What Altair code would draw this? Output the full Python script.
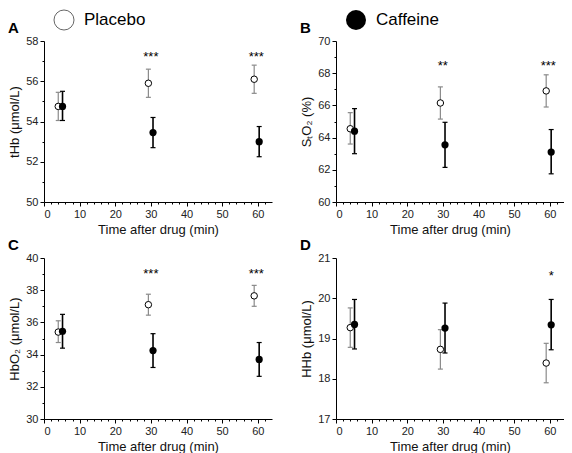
import altair as alt
import pandas as pd

FONT = "Liberation Sans"

# x positions (min) of the two groups (slightly offset around 5, 30, 60 min)
x_placebo = [4.0, 29.3, 59.0]
x_caffeine = [5.2, 30.6, 60.4]

# Panel A: tHb (umol/L)
a_pla_mean = [54.75, 55.9, 56.1]
a_pla_lo = [54.05, 55.2, 55.4]
a_pla_hi = [55.45, 56.6, 56.8]
a_caf_mean = [54.75, 53.45, 53.0]
a_caf_lo = [54.05, 52.7, 52.25]
a_caf_hi = [55.5, 54.2, 53.75]
a_star_x = [30.0, 59.6]
a_star_y = [57.3, 57.3]
a_star_txt = ["***", "***"]

# Panel B: StO2 (%)
b_pla_mean = [64.55, 66.15, 66.9]
b_pla_lo = [63.6, 65.15, 65.9]
b_pla_hi = [65.55, 67.15, 67.9]
b_caf_mean = [64.4, 63.55, 63.1]
b_caf_lo = [63.0, 62.15, 61.75]
b_caf_hi = [65.8, 64.95, 64.5]
b_star_x = [30.0, 59.6]
b_star_y = [68.6, 68.6]
b_star_txt = ["**", "***"]

# Panel C: HbO2 (umol/L)
c_pla_mean = [35.4, 37.1, 37.65]
c_pla_lo = [34.75, 36.45, 37.0]
c_pla_hi = [36.1, 37.75, 38.3]
c_caf_mean = [35.45, 34.25, 33.7]
c_caf_lo = [34.4, 33.2, 32.65]
c_caf_hi = [36.5, 35.3, 34.75]
c_star_x = [30.0, 59.6]
c_star_y = [39.1, 39.1]
c_star_txt = ["***", "***"]

# Panel D: HHb (umol/L)
d_pla_mean = [19.27, 18.73, 18.39]
d_pla_lo = [18.78, 18.24, 17.9]
d_pla_hi = [19.76, 19.22, 18.88]
d_caf_mean = [19.35, 19.26, 19.34]
d_caf_lo = [18.74, 18.64, 18.72]
d_caf_hi = [19.97, 19.88, 19.97]
d_star_x = [60.4]
d_star_y = [20.6]
d_star_txt = ["*"]

X_DOMAIN = [0, 64]
X_TICKS = list(range(0, 63, 2))

W, H = 228, 161


def frange(a, b, step):
    out = []
    v = a
    while v <= b + 1e-9:
        out.append(round(v, 4))
        v += step
    return out


def panel(letter, ytitle, ydom, major, minor, pla, caf, stars, legend=None):
    xenc = alt.X(
        "x:Q",
        scale=alt.Scale(domain=X_DOMAIN, nice=False, zero=False),
        axis=alt.Axis(
            title="Time after drug (min)",
            values=X_TICKS,
            format="d",
            labelExpr="datum.value % 10 === 0 ? datum.label : ''",
            tickSize={"condition": {"test": "datum.value % 10 === 0", "value": 4}, "value": 2},
            grid=False,
        ),
    )
    ticks_y = frange(ydom[0], ydom[1], minor)
    test = f"abs(datum.value / {major} - round(datum.value / {major})) < 0.001"

    def yenc(field):
        return alt.Y(
            f"{field}:Q",
            scale=alt.Scale(domain=ydom, nice=False, zero=False),
            axis=alt.Axis(
                title=ytitle,
                values=ticks_y,
                format="d",
                labelExpr=f"{test} ? datum.label : ''",
                tickSize={"condition": {"test": test, "value": 4}, "value": 2},
                grid=False,
            ),
        )

    dp = pd.DataFrame({"x": x_placebo, "mean": pla[0], "lo": pla[1], "hi": pla[2]})
    dc = pd.DataFrame({"x": x_caffeine, "mean": caf[0], "lo": caf[1], "hi": caf[2]})
    ds = pd.DataFrame({"x": stars[0], "y": stars[1], "t": stars[2]})

    layers = []
    for d, col, sw in [(dp, "#8a8a8a", 1.2), (dc, "#000000", 1.6)]:
        layers.append(
            alt.Chart(d).mark_rule(color=col, strokeWidth=sw).encode(x=xenc, y=yenc("lo"), y2="hi:Q")
        )
        for f in ["lo", "hi"]:
            layers.append(
                alt.Chart(d)
                .mark_tick(color=col, thickness=1.2, size=5, orient="horizontal", opacity=1)
                .encode(x=xenc, y=yenc(f))
            )
    layers.append(
        alt.Chart(dp)
        .mark_point(shape="circle", filled=True, fill="white", stroke="black", strokeWidth=1, size=42, opacity=1)
        .encode(x=xenc, y=yenc("mean"))
    )
    layers.append(
        alt.Chart(dc)
        .mark_point(shape="circle", filled=True, color="black", size=52, opacity=1)
        .encode(x=xenc, y=yenc("mean"))
    )
    layers.append(
        alt.Chart(ds)
        .mark_text(font=FONT, fontSize=13, baseline="middle", align="center", dy=2)
        .encode(x=xenc, y=yenc("y"), text="t:N")
    )
    layers.append(
        alt.Chart(pd.DataFrame({"t": [letter]}))
        .mark_text(font=FONT, fontSize=15, fontWeight="bold", align="left", baseline="middle")
        .encode(x=alt.value(-36), y=alt.value(-13), text="t:N")
    )
    if legend is not None:
        name, filled = legend
        ld = pd.DataFrame({"t": [name]})
        if filled:
            pt = alt.Chart(ld).mark_point(shape="circle", filled=True, color="black", size=400, opacity=1)
        else:
            pt = alt.Chart(ld).mark_point(
                shape="circle", filled=True, fill="white", stroke="#555", strokeWidth=0.9,
                size=400, opacity=1
            )
        layers.append(pt.encode(x=alt.value(20), y=alt.value(-21)))
        layers.append(
            alt.Chart(ld)
            .mark_text(font=FONT, fontSize=17, align="left", baseline="middle")
            .encode(x=alt.value(40), y=alt.value(-21), text="t:N")
        )
    return alt.layer(*layers).properties(width=W, height=H)


pA = panel("A", "tHb (μmol/L)", [50, 58], 2, 0.5,
           (a_pla_mean, a_pla_lo, a_pla_hi), (a_caf_mean, a_caf_lo, a_caf_hi),
           (a_star_x, a_star_y, a_star_txt), ("Placebo", False))
pB = panel("B", "SₜO₂ (%)", [60, 70], 2, 0.5,
           (b_pla_mean, b_pla_lo, b_pla_hi), (b_caf_mean, b_caf_lo, b_caf_hi),
           (b_star_x, b_star_y, b_star_txt), ("Caffeine", True))
pC = panel("C", "HbO₂ (μmol/L)", [30, 40], 2, 0.5,
           (c_pla_mean, c_pla_lo, c_pla_hi), (c_caf_mean, c_caf_lo, c_caf_hi),
           (c_star_x, c_star_y, c_star_txt))
pD = panel("D", "HHb (μmol/L)", [17, 21], 1, 0.25,
           (d_pla_mean, d_pla_lo, d_pla_hi), (d_caf_mean, d_caf_lo, d_caf_hi),
           (d_star_x, d_star_y, d_star_txt))

chart = (
    alt.vconcat(
        alt.hconcat(pA, pB, spacing=28),
        alt.hconcat(pC, pD, spacing=28),
        spacing=2,
    )
    .properties(padding={"left": 0, "top": 0, "right": 0, "bottom": 0})
    .configure_view(stroke=None)
    .configure_axis(
        domainColor="black",
        tickColor="black",
        labelFont=FONT,
        labelFontSize=11,
        labelColor="#222",
        titleFont=FONT,
        titleFontSize=13,
        titleFontWeight="normal",
        titleColor="#111",
        labelPadding=2,
    )
)

chart.save("out.html", embed_options={"renderer": "svg", "actions": False})
